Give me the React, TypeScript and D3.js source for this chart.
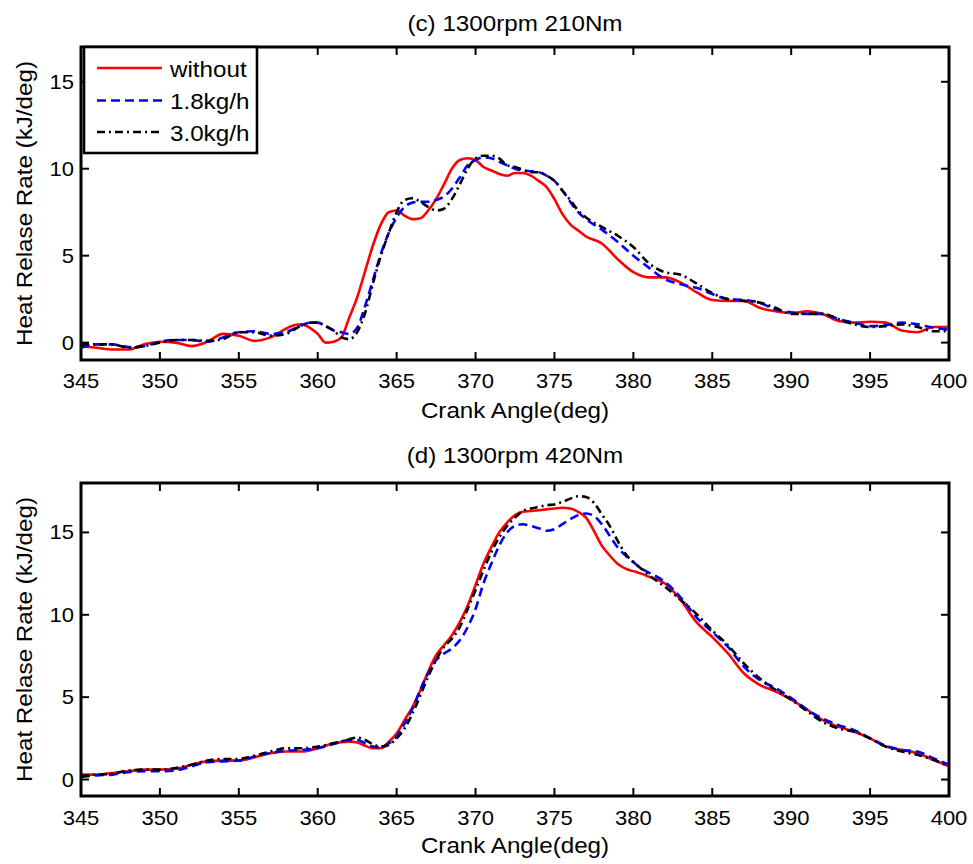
import React, { useEffect, useRef } from 'react';
import * as d3 from 'd3';

// crank angles sampled for panel (c)
const anglesC = [
  345, 346, 347, 348, 349, 350, 351, 352, 353, 354, 355, 356, 357, 358,
  358.5, 359, 359.5, 360, 360.5, 361, 361.5, 362, 362.5, 363, 363.5, 364, 364.5, 365, 365.5, 366, 366.5, 367,
  367.5, 368, 368.5, 369, 369.5, 370, 370.5, 371, 371.5, 372, 372.5, 373, 373.5, 374, 374.5, 375, 375.5, 376,
  376.5, 377,
  378, 379, 380, 381, 382, 383, 384, 385, 386, 387, 388, 389, 390, 391, 392, 393, 394, 395, 396, 397, 398, 399, 400,
];
const withoutC = [
  -0.2, -0.3, -0.4, -0.4, -0.1, 0.05, 0, -0.2, 0.05, 0.5, 0.4, 0.1, 0.3, 0.8,
  1.0, 1.05, 0.85, 0.5, 0.0, 0.05, 0.3, 1.45, 2.6, 4.1, 5.6, 6.8, 7.5, 7.6, 7.3, 7.1, 7.15, 7.6,
  8.25, 9.1, 10.0, 10.5, 10.6, 10.5, 10.1, 9.9, 9.7, 9.6, 9.75, 9.75, 9.6, 9.3, 8.95, 8.25, 7.4, 6.8,
  6.45, 6.1,
  5.7, 4.8, 4.05, 3.75, 3.75, 3.45, 2.9, 2.45, 2.4, 2.4, 2.0, 1.8, 1.7, 1.8, 1.65, 1.25, 1.15, 1.2, 1.15, 0.7, 0.6, 0.9, 0.9,
];
const flow18C = [
  -0.3, -0.1, -0.1, -0.25, -0.2, 0.05, 0.15, 0.15, 0.05, 0.3, 0.6, 0.65, 0.5, 0.6,
  0.8, 1.0, 1.15, 1.15, 0.95, 0.7, 0.6, 0.5, 0.85, 2.1, 3.6, 5.1, 6.3, 7.2, 7.8, 8.05, 8.1, 8.1,
  8.2, 8.4, 8.85, 9.5, 10.2, 10.5, 10.65, 10.6, 10.4, 10.2, 10.0, 9.9, 9.85, 9.8, 9.6, 9.3, 8.75, 8.1,
  7.5, 7.1,
  6.5, 5.8, 5.0, 4.3, 3.65, 3.35, 3.15, 2.8, 2.5, 2.45, 2.3, 1.9, 1.75, 1.65, 1.65, 1.35, 1.15, 0.95, 1.0, 1.15, 1.05, 0.85, 0.75,
];
const flow30C = [
  -0.1, -0.1, -0.1, -0.3, -0.2, 0, 0.15, 0.15, 0.1, 0.2, 0.6, 0.6, 0.4, 0.5,
  0.75, 1.0, 1.15, 1.15, 0.95, 0.7, 0.3, 0.2, 0.6, 1.7, 3.4, 5.0, 6.3, 7.5, 8.2, 8.3, 8.1, 7.8,
  7.6, 7.7, 8.25, 9.1, 10.0, 10.6, 10.75, 10.75, 10.6, 10.2, 10.1, 9.95, 9.8, 9.8, 9.6, 9.3, 8.75, 8.2,
  7.6, 7.2,
  6.65, 6.15, 5.5, 4.55, 4.05, 3.9, 3.4, 2.85, 2.5, 2.4, 2.3, 2.0, 1.65, 1.65, 1.65, 1.35, 1.05, 0.9, 0.95, 1.05, 0.9, 0.65, 0.65,
];

// crank angles sampled for panel (d)
const anglesD = [
  345, 346, 347, 348, 349, 350, 351, 352, 353, 354, 355, 356, 357, 358, 359, 360, 361, 362,
  362.5, 363, 363.5, 364, 364.5, 365, 365.5, 366, 366.5, 367, 367.5, 368, 368.5, 369, 369.5, 370, 370.5, 371,
  371.5, 372, 372.5, 373, 373.5, 374, 374.5, 375, 375.5, 376, 376.5, 377, 377.5, 378, 378.5, 379, 379.5, 380,
  380.5, 381,
  382, 383, 384, 385, 386, 387, 388, 389, 390, 391, 392, 393, 394, 395, 396, 397, 398, 399, 400,
];
const withoutD = [
  0.3, 0.3, 0.4, 0.5, 0.6, 0.6, 0.65, 0.9, 1.1, 1.15, 1.15, 1.35, 1.6, 1.7, 1.7, 1.9, 2.2, 2.3,
  2.25, 2.05, 1.9, 1.9, 2.3, 2.8, 3.6, 4.4, 5.4, 6.55, 7.55, 8.15, 8.75, 9.55, 10.55, 11.8, 13.1, 14.1,
  15.0, 15.6, 16.05, 16.25, 16.3, 16.35, 16.4, 16.45, 16.5, 16.45, 16.25, 15.9, 15.1, 14.2, 13.6, 13.1, 12.8, 12.65,
  12.5, 12.3,
  11.9, 10.9, 9.55, 8.65, 7.65, 6.45, 5.75, 5.35, 4.85, 4.25, 3.6, 3.2, 2.9, 2.5, 2.0, 1.8, 1.6, 1.2, 0.8,
];
const flow18D = [
  0.15, 0.25, 0.3, 0.45, 0.5, 0.5, 0.55, 0.8, 1.05, 1.1, 1.15, 1.4, 1.6, 1.75, 1.8, 1.9, 2.15, 2.4,
  2.4, 2.2, 2.0, 1.95, 2.2, 2.6, 3.4, 4.3, 5.45, 6.45, 7.25, 7.65, 7.95, 8.45, 9.25, 10.35, 11.9, 13.1,
  14.2, 15.0, 15.4, 15.5, 15.4, 15.25, 15.1, 15.2, 15.5, 15.8, 16.05, 16.15, 16.0, 15.5, 14.8, 14.1, 13.6, 13.2,
  12.8, 12.55,
  12.0, 11.05, 9.85, 8.95, 8.05, 6.85, 6.05, 5.55, 4.95, 4.25, 3.7, 3.3, 3.0, 2.5, 2.05, 1.8, 1.7, 1.3, 0.9,
];
const flow30D = [
  0.2, 0.3, 0.35, 0.55, 0.6, 0.6, 0.7, 0.9, 1.15, 1.25, 1.25, 1.45, 1.7, 1.9, 1.9, 2.0, 2.2, 2.45,
  2.55, 2.4, 2.15, 2.0, 2.1, 2.5, 3.1, 4.0, 5.1, 6.25, 7.25, 8.05, 8.55, 9.25, 10.35, 11.5, 12.7, 13.8,
  14.7, 15.4, 15.9, 16.3, 16.45, 16.55, 16.65, 16.7, 16.85, 17.05, 17.2, 17.15, 16.8, 16.1, 15.4, 14.5, 13.7, 13.2,
  12.8, 12.4,
  11.7, 10.9, 10.05, 9.05, 8.15, 7.05, 6.15, 5.45, 4.85, 4.15, 3.5, 3.1, 2.9, 2.5, 2.0, 1.7, 1.5, 1.2, 0.8,
];

const xTicks = [345, 350, 355, 360, 365, 370, 375, 380, 385, 390, 395, 400];
const yTicks = [0, 5, 10, 15];
const seriesNames = ['without', '1.8kg/h', '3.0kg/h'];

const FONT = '"Liberation Sans", Arial, Helvetica, sans-serif';

const App: React.FC = () => {
  const svgRef = useRef<SVGSVGElement>(null);

  useEffect(() => {
    if (!svgRef.current) return;
    const svg = d3.select(svgRef.current);
    svg.selectAll('*').remove();

    const left = 81;
    const right = 949;
    const x = d3.scaleLinear().domain([345, 400]).range([left, right]);

    const styles = [
      { color: '#ff0000', dash: null as string | null },
      { color: '#0000ff', dash: '9,5' },
      { color: '#000000', dash: '8,4,2,4' },
    ];

    const panels = [
      {
        title: '(c) 1300rpm 210Nm', top: 47, bottom: 360, yDomain: [-1, 17],
        titleY: 31, xTickY: 388, xLabelY: 418,
        angles: anglesC, series: [withoutC, flow18C, flow30C], legend: true,
      },
      {
        title: '(d) 1300rpm 420Nm', top: 483, bottom: 796, yDomain: [-1, 18],
        titleY: 463, xTickY: 825, xLabelY: 853,
        angles: anglesD, series: [withoutD, flow18D, flow30D], legend: false,
      },
    ];

    // text is slightly wider than a plain Arial face in the original
    const addText = (
      g: d3.Selection<SVGGElement, unknown, null, undefined>,
      str: string, tx: number, ty: number, size: number, anchor: string, rotate = 0,
    ) => g.append('text')
      .attr('transform', `translate(${tx},${ty})${rotate ? ` rotate(${rotate})` : ''} scale(1.1,1)`)
      .attr('text-anchor', anchor)
      .attr('font-size', size)
      .attr('font-family', FONT)
      .attr('fill', '#000')
      .text(str);

    panels.forEach((p, pi) => {
      const y = d3.scaleLinear().domain(p.yDomain).range([p.bottom, p.top]);
      const g = svg.append('g');

      const clipId = `plot-clip-${pi}`;
      g.append('clipPath').attr('id', clipId)
        .append('rect')
        .attr('x', left).attr('y', p.top)
        .attr('width', right - left).attr('height', p.bottom - p.top);

      // Curves
      p.series.forEach((vals, si) => {
        const pts = p.angles.map((a, k) => [a, vals[k]] as [number, number]);
        const line = d3.line<[number, number]>()
          .x(d => x(d[0]))
          .y(d => y(d[1]))
          .curve(d3.curveMonotoneX);
        g.append('path')
          .datum(pts)
          .attr('clip-path', `url(#${clipId})`)
          .attr('fill', 'none')
          .attr('stroke', styles[si].color)
          .attr('stroke-width', 2.6)
          .attr('stroke-linejoin', 'round')
          .attr('stroke-dasharray', styles[si].dash)
          .attr('d', line);
      });

      // Inward ticks on all sides
      const ticks = g.append('g').attr('stroke', '#000').attr('stroke-width', 2);
      xTicks.forEach(t => {
        ticks.append('line').attr('x1', x(t)).attr('x2', x(t)).attr('y1', p.bottom).attr('y2', p.bottom - 8);
        ticks.append('line').attr('x1', x(t)).attr('x2', x(t)).attr('y1', p.top).attr('y2', p.top + 8);
      });
      yTicks.forEach(t => {
        ticks.append('line').attr('x1', left).attr('x2', left + 8).attr('y1', y(t)).attr('y2', y(t));
        ticks.append('line').attr('x1', right).attr('x2', right - 8).attr('y1', y(t)).attr('y2', y(t));
      });

      // Box
      g.append('rect')
        .attr('x', left).attr('y', p.top)
        .attr('width', right - left).attr('height', p.bottom - p.top)
        .attr('fill', 'none').attr('stroke', '#000').attr('stroke-width', 3);

      // Tick labels
      xTicks.forEach(t => addText(g, String(t), x(t), p.xTickY, 20, 'middle'));
      yTicks.forEach(t => addText(g, String(t), left - 7, y(t) + 7, 20, 'end'));

      // Labels
      addText(g, p.title, (left + right) / 2, p.titleY, 22, 'middle');
      addText(g, 'Crank Angle(deg)', (left + right) / 2, p.xLabelY, 22, 'middle');
      addText(g, 'Heat Relase Rate (kJ/deg)', 32, (p.top + p.bottom) / 2, 22, 'middle', -90);

      // Legend
      if (p.legend) {
        const lg = g.append('g');
        lg.append('rect')
          .attr('x', 84).attr('y', 47).attr('width', 173).attr('height', 106)
          .attr('fill', '#fff').attr('stroke', '#000').attr('stroke-width', 2.6);
        const rowY = [68, 100.5, 132];
        seriesNames.forEach((name, si) => {
          lg.append('line')
            .attr('x1', 97).attr('x2', 162)
            .attr('y1', rowY[si]).attr('y2', rowY[si])
            .attr('stroke', styles[si].color)
            .attr('stroke-width', 2.6)
            .attr('stroke-dasharray', styles[si].dash);
          addText(lg, name, 170, rowY[si] + 8.5, 22, 'start');
        });
      }
    });
  }, []);

  return (
    <div style={{ position: 'absolute', left: 0, top: 0 }}>
      <svg ref={svgRef} width={973} height={864} style={{ display: 'block', background: '#fff' }}></svg>
    </div>
  );
};

export default App;
